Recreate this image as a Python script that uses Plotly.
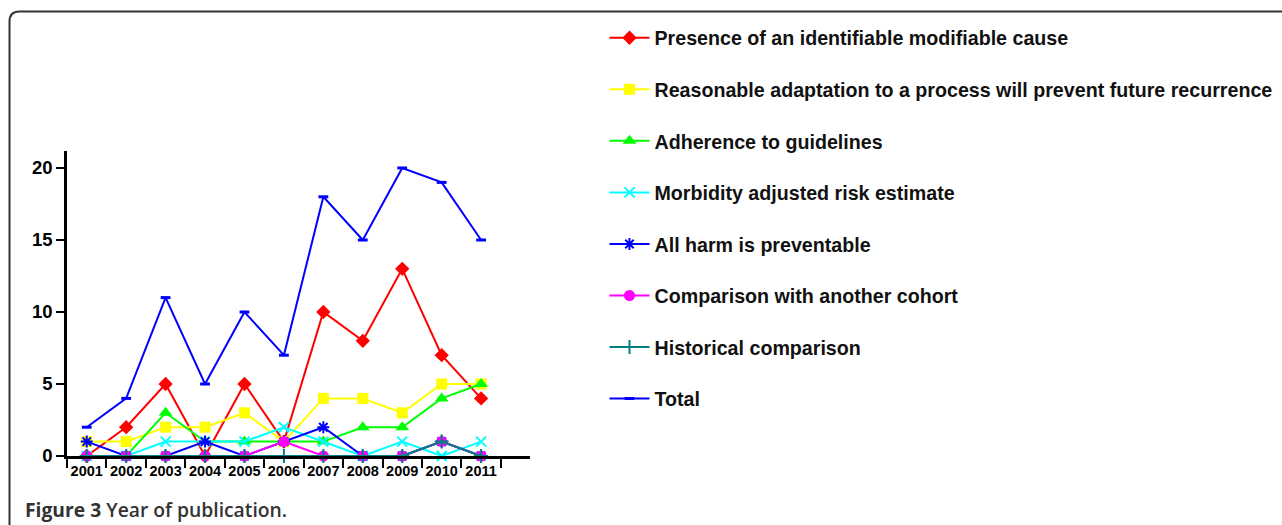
import plotly.graph_objects as go

years = ["2001", "2002", "2003", "2004", "2005", "2006", "2007", "2008", "2009", "2010", "2011"]

presence = [0, 2, 5, 0, 5, 1, 10, 8, 13, 7, 4]
adaptation = [1, 1, 2, 2, 3, 1, 4, 4, 3, 5, 5]
guidelines = [0, 0, 3, 1, 1, 1, 1, 2, 2, 4, 5]
morbidity = [0, 0, 1, 1, 1, 2, 1, 0, 1, 0, 1]
all_harm = [1, 0, 0, 1, 0, 1, 2, 0, 0, 1, 0]
cohort = [0, 0, 0, 0, 0, 1, 0, 0, 0, 1, 0]
historical = [0, 0, 0, 0, 0, 0, 0, 0, 0, 1, 0]
total = [2, 4, 11, 5, 10, 7, 18, 15, 20, 19, 15]

series_names = [
    "Presence of an identifiable modifiable cause",
    "Reasonable adaptation to a process will prevent future recurrence",
    "Adherence to guidelines",
    "Morbidity adjusted risk estimate",
    "All harm is preventable",
    "Comparison with another cohort",
    "Historical comparison",
    "Total",
]
series_values = [presence, adaptation, guidelines, morbidity, all_harm, cohort, historical, total]
colors = ["#ff0000", "#ffff00", "#00ff00", "#00ffff", "#0000ff", "#ff00ff", "#008080", "#0000ff"]
symbols = ["diamond", "square", "triangle-up", "x-thin-open", "asterisk-open", "circle",
           "cross-thin-open", "line-ew-open"]
sizes = [11, 11, 12, 10, 10, 11, 10, 7]

W, H = 1282, 525


def PX(px):
    return px / W


def PY(py):
    return 1 - py / H


fig = go.Figure()
for i, (name, vals) in enumerate(zip(series_names, series_values)):
    sym = symbols[i]
    open_sym = sym.endswith("-open")
    fig.add_trace(go.Scatter(
        x=years, y=vals, name=name, mode="lines+markers",
        legendgroup=f"g{i}",
        line=dict(color=colors[i], width=2),
        marker=dict(symbol=sym, size=sizes[i], color=colors[i],
                    line=dict(color=colors[i], width=(3 if sym == "line-ew-open" else 2) if open_sym else 0)),
        cliponaxis=False,
    ))

# frame with rounded top-left corner
x0 = PX(9.5)
yt = PY(11.5)
rx = 10 / W
ry = 10 / H
fig.add_shape(type="path", xref="paper", yref="paper",
              path=f"M {x0},-0.05 L {x0},{yt - ry} Q {x0},{yt} {x0 + rx},{yt} L 1.05,{yt}",
              line=dict(color="#333333", width=2))

fig.add_annotation(xref="paper", yref="paper", x=PX(23), y=PY(509), xanchor="left", yanchor="middle",
                   showarrow=False,
                   text="<b>Figure 3</b> Year of publication.",
                   font=dict(family="Open Sans", size=19.3, color="#333333", weight=600))

fig.update_layout(
    width=W, height=H,
    margin=dict(l=0, r=0, t=0, b=0, autoexpand=False),
    paper_bgcolor="white", plot_bgcolor="white",
    showlegend=True,
    legend=dict(x=PX(604.5), y=PY(18.5), xanchor="left", yanchor="top",
                font=dict(family="Liberation Sans", size=19.65, color="#111111", weight="bold"),
                tracegroupgap=23, itemwidth=40, bgcolor="rgba(0,0,0,0)"),
    xaxis=dict(domain=[PX(67), PX(530)], type="category", range=[-0.5, 11.24], automargin=False,
               showline=True, linecolor="black", linewidth=2.5, showgrid=False, zeroline=False,
               ticks="outside", tickson="boundaries", ticklen=9, tickwidth=2, tickcolor="black",
               tickangle=0,
               tickfont=dict(family="Liberation Sans", size=14.5, color="black", weight="bold")),
    yaxis=dict(domain=[PY(456), PY(151)], range=[0, 21.18], automargin=False,
               showline=True, linecolor="black", linewidth=2.5, showgrid=False, zeroline=False,
               tickvals=[0, 5, 10, 15, 20],
               ticks="outside", ticklen=8, tickwidth=2, tickcolor="black",
               tickfont=dict(family="Liberation Sans", size=18.5, color="black", weight="bold")),
)

fig.write_html("out.html", config={"displayModeBar": False},
               post_script="document.body.style.margin='0';document.body.style.overflow='hidden';")
